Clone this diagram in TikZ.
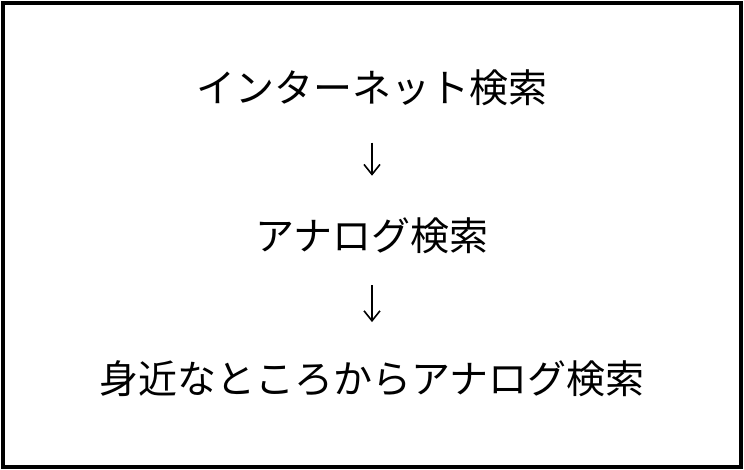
\documentclass[tikz,border=0pt]{standalone}
\usepackage{fontspec}
\newfontfamily\jpfont{Noto Sans CJK JP}
\usetikzlibrary{arrows.meta,positioning}

\begin{document}
\begin{tikzpicture}[x=1pt,y=-1pt,font=\jpfont\fontsize{39}{46}\selectfont,node distance=108pt,>={Straight Barb[length=10pt,width=16pt]}]
  \tikzstyle{step text}=[inner sep=0pt,text height=34.3pt,text depth=4.7pt]
  \useasboundingbox (0,0) rectangle (744,470);
  \draw[line width=4pt] (3,3) rectangle (741,467);
  \node[step text] (internet) at (372,88) {インターネット検索};
  \node[step text,below=of internet] (analog) {アナログ検索};
  \node[step text,below=104pt of analog] (nearby) {身近なところからアナログ検索};
  \draw[->,line width=1.6pt,shorten <=35pt,shorten >=40pt] (internet) -- (analog);
  \draw[->,line width=1.6pt,shorten <=30pt,shorten >=37pt] (analog) -- (nearby);
\end{tikzpicture}
\end{document}
